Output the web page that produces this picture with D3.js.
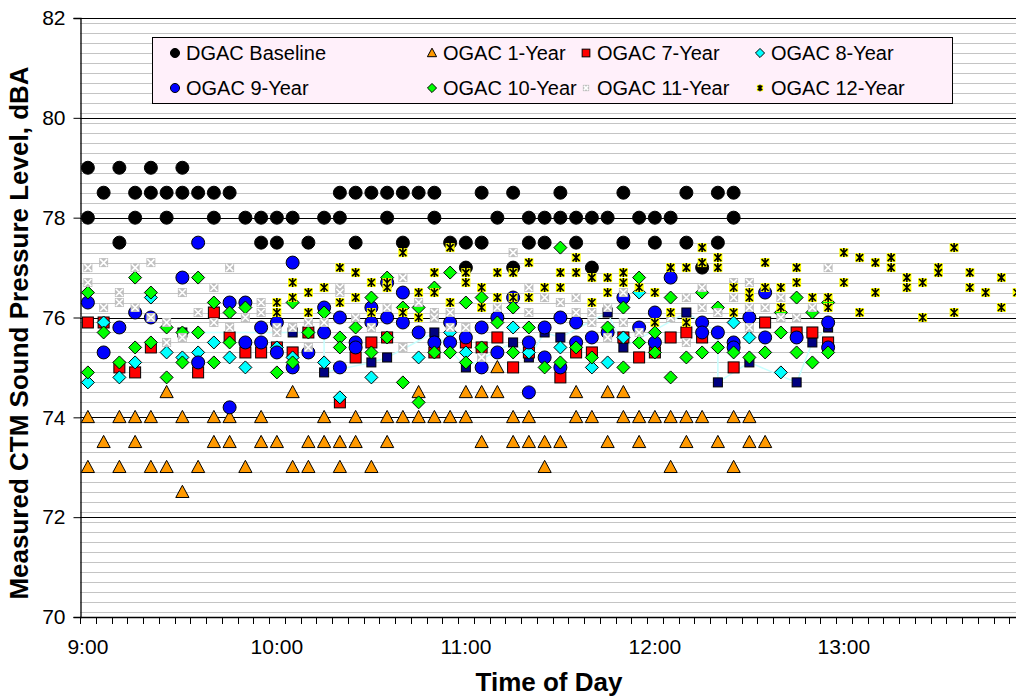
<!DOCTYPE html>
<html><head><meta charset="utf-8">
<script src="https://cdn.jsdelivr.net/npm/d3@7"></script>
<style>body{margin:0;background:#fff}svg{display:block;font-family:Arial,"Liberation Sans",sans-serif}</style>
</head><body><svg id="c" width="1016" height="700"></svg>
<script>
// 5-minute time slots (categories)
const times = ["9:00","9:05","9:10","9:15","9:20","9:25","9:30","9:35","9:40","9:45","9:50","9:55",
"10:00","10:05","10:10","10:15","10:20","10:25","10:30","10:35","10:40","10:45","10:50","10:55",
"11:00","11:05","11:10","11:15","11:20","11:25","11:30","11:35","11:40","11:45","11:50","11:55",
"12:00","12:05","12:10","12:15","12:20","12:25","12:30","12:35","12:40","12:45","12:50","12:55",
"13:00","13:05","13:10","13:15","13:20","13:25","13:30","13:35","13:40","13:45","13:50","13:55"];
const tickLabels = ["9:00","10:00","11:00","12:00","13:00"];
const yTicks = [70,72,74,76,78,80,82];

// values per time slot (index = slot in `times`)
const dgacBaseline = [[79,78],[78.5],[79,77.5],[78.5,78],[79,78.5],[78.5,78],[79,78.5],[78.5],[78.5,78],[78.5],[78],[78,77.5],
[78,77.5],[78],[77.5],[78],[78.5,78],[78.5,77.5],[78.5],[78.5,78],[78.5,77.5],[78.5],[78.5,78],[77.5],
[77.5,77],[78.5,77.5],[78],[78.5,77],[78,77.5],[78,77.5],[78.5,78],[78,77.5],[78,77],[78],[78.5,77.5],[78],
[78,77.5],[78],[78.5,77.5],[77],[78.5,77.5],[78.5,78]];
const ogac1 = [[74,73],[73.5],[74,73],[74,73.5],[74,73],[74.5,73],[74,72.5],[73],[74,73.5],[74,73.5],[73],[74,73.5],
[73.5],[74.5,73],[73.5,73],[74,73.5],[73.5,73],[74,73.5],[73],[74,73.5],[74],[74.5,74],[74],[74],
[74.5,74],[74.5,73.5],[75,74.5],[74,73.5],[74,73.5],[73.5,73],[73.5],[74.5,74],[74],[74.5,73.5],[74.5,74],[74,73.5],
[74],[74,73],[74,73.5],[74],[73.5],[74,73],[74,73.5],[73.5]];
const ogacExtra = [[],[],[],[],[],[],[75.7],[],[],[],[],[],
[],[75.7],[],[75.7,74.9],[],[],[75.1],[75.2],[],[],[75.7],[],
[75.0],[],[],[75.5],[75.2],[75.7],[75.6],[],[],[76.1],[75.4],[],
[],[],[76.1],[],[75.7,74.7],[],[75.1],[],[],[74.7],[75.5],[75.8]];
const ogac7 = [[75.9],[75.9],[75.0],[74.9],[75.4],[],[],[74.9],[76.1],[75.6],[75.3],[75.3],
[75.4],[75.3],[75.7],[],[74.3],[75.2],[75.5],[75.6],[],[],[75.3],[],
[75.5],[75.4],[75.6],[75.0],[75.3],[],[74.8],[75.3],[75.3],[],[75.6],[75.2],
[75.3],[75.6],[75.7],[75.6],[],[75.0],[],[75.9],[],[75.7],[75.7],[75.5]];
const ogac8 = [[74.7],[75.9],[74.8],[75.1],[76.4],[75.3],[75.2],[75.3],[75.5],[75.2],[75.0],[],
[75.4],[75.2],[],[75.1],[74.4],[],[74.8],[],[],[75.2],[],[75.7],
[75.3],[],[],[75.8],[75.3],[],[75.4],[],[75.0],[75.1],[75.6],[76.5],
[],[],[],[],[],[75.9],[75.6],[],[74.9]];
const ogac9 = [[76.3],[75.3],[75.8],[76.1],[76.0],[],[76.8],[77.5,75.1],[],[76.3,74.2],[76.3,75.5],[75.8,75.5],
[75.9,75.3],[77.1,75.0],[75.3],[76.2,75.7],[76.0,75.0],[75.5,75.4],[76.2,75.9],[76.7,76.0],[76.5,75.9],[75.7],[75.5],[75.9,75.5],
[75.6],[75.8,75.0],[76.0,75.3],[76.4],[75.5,74.5],[75.8,75.2],[76.0,75.0],[75.9,75.5],[75.6],[75.7],[76.4],[75.8],
[76.1,75.5],[76.8],[],[75.9,75.7],[75.7],[75.5,75.4],[76.0],[76.5,75.6],[],[75.6],[],[75.9,75.4]];
const ogac10 = [[76.5,74.9],[75.7],[75.1],[76.8,75.4],[76.5,75.5],[75.8,74.8],[75.7,75.1],[76.8,75.7],[76.3,75.1],[76.1,75.5],[76.2],[],
[74.9],[76.3,75.1],[75.7],[76.1],[75.6,75.4],[75.8],[76.4,75.3],[76.8,75.6],[76.2,74.7],[76.2,74.3],[76.6,75.3],[76.9,75.3],
[76.3,75.1],[76.4,75.4],[75.9],[76.2,75.3],[75.8],[75.0],[77.4,75.1],[75.4],[75.2],[75.8],[76.2,75.0],[76.8,75.5],
[75.7,75.3],[76.4,74.8],[75.2],[76.5,75.3],[76.2,75.4],[75.3],[75.2],[75.3],[76.1,75.7],[76.4,75.3],[76.1,75.1],[76.3,75.3]];
const ogac11 = [[77.0,76.7],[77.1,76.2],[76.5,76.3],[77.0,76.2],[77.1,76.0],[75.9,75.5],[76.5,75.6],[76.1],[76.6,75.9],[77.0,75.8],[76.0],[76.3,76.1],
[75.8,75.7],[75.8],[75.9,75.4],[75.9],[76.6,76.5],[76.0],[75.8],[76.2],[76.8,75.4],[76.3],[76.1,76.0],[76.1,75.8],
[75.8],[75.2],[76.2],[77.3],[76.6,76.1],[76.4],[76.3],[76.4,76.1],[76.1,75.9],[76.2,75.6],[76.5,75.9],[75.7],
[],[76.0],[76.4,75.5],[76.6,76.2],[76.1],[76.7,76.4],[76.7,76.2,75.8],[76.2],[76.4,76.0],[76.0],[76.2],[77.0]];
const ogac12 = [[],[],[],[],[],[],[],[],[],[],[],[],
[76.3,76.1],[76.7,76.4],[76.5,76.1],[76.6],[77.0,76.3],[76.9,76.4],[76.7,76.1],[76.7,76.6],[77.3,76.1],[76.5,76.0],[76.9,76.5],[77.4,76.3],
[76.9,76.7],[76.6,76.2],[76.9,76.4],[76.9,76.4],[77.1,76.4],[76.6],[76.9,76.6],[77.2,76.9],[76.8,76.3],[76.8,76.5],[76.9,76.7],[76.6],
[76.5,75.9],[77.0,76.1],[77.0,75.9],[77.4,77.1],[77.2,77.0],[76.6,76.1],[76.5,76.4],[77.1,76.6],[76.6,76.2],[77.0,76.7],[76.4],[76.4,76.2],
[77.3,76.7],[77.2,76.1],[77.1,76.5],[77.2,77.0],[76.8,76.6],[76.7,76.0],[77.0,76.9],[77.4,76.1],[76.9,76.6],[76.5],[76.8,76.2],[76.5]];

const legendNames = ["DGAC Baseline","OGAC 1-Year","OGAC 7-Year","OGAC 8-Year","OGAC 9-Year","OGAC 10-Year","OGAC 11-Year","OGAC 12-Year"];

const svg = d3.select("#c");
const L = 80, T = 18, B = 617, BW = 15.75;
const x = d3.scaleBand().domain(times).range([L, L + times.length * BW]).paddingInner(0).paddingOuter(0);
const y = d3.scaleLinear().domain([70, 82]).range([B, T]);
const cx = t => x(t) + x.bandwidth() / 2;

// gridlines
const minor = d3.range(701, 820, 2).map(v => v / 10).filter(v => Math.abs(v % 2) > 0.01);
svg.append("g").selectAll("line").data(minor).join("line")
  .attr("x1", L).attr("x2", 1016).attr("y1", d => Math.round(y(d)) + 0.5).attr("y2", d => Math.round(y(d)) + 0.5)
  .attr("stroke", "#c4c4c4").attr("stroke-width", 1);
svg.append("g").selectAll("line").data(yTicks.filter(v => v > 70)).join("line")
  .attr("x1", L).attr("x2", 1016).attr("y1", d => Math.round(y(d)) + 0.5).attr("y2", d => Math.round(y(d)) + 0.5)
  .attr("stroke", "#000").attr("stroke-width", 1);

// y axis
const ya = svg.append("g").attr("transform", `translate(${L + 0.5},0)`)
  .call(d3.axisLeft(y).tickValues(yTicks).tickSize(7).tickPadding(8).tickFormat(d3.format("d")));
ya.select(".domain").attr("stroke", "#000").attr("stroke-width", 1.3);
ya.selectAll(".tick line").attr("stroke", "#000");
ya.selectAll(".tick text").attr("font-size", 21).attr("font-family", "Arial, 'Liberation Sans', sans-serif").attr("fill", "#000");

// x axis
svg.append("line").attr("x1", L).attr("x2", 1016).attr("y1", B + 0.5).attr("y2", B + 0.5).attr("stroke", "#000").attr("stroke-width", 1.3);
svg.append("g").selectAll("line").data(times).join("line")
  .attr("x1", d => Math.round(x(d)) + 0.5).attr("x2", d => Math.round(x(d)) + 0.5)
  .attr("y1", B).attr("y2", B + 7).attr("stroke", "#000");
const xa = svg.append("g").attr("transform", `translate(0,${B})`)
  .call(d3.axisBottom(x).tickValues(tickLabels).tickSize(0).tickPadding(22));
xa.select(".domain").remove();
xa.selectAll(".tick text").attr("font-size", 21).attr("font-family", "Arial, 'Liberation Sans', sans-serif").attr("fill", "#000");

// titles
svg.append("text").attr("x", 549).attr("y", 691).attr("text-anchor", "middle")
  .attr("font-size", 26).attr("font-weight", "bold").text("Time of Day");
svg.append("text").attr("transform", "translate(28,333) rotate(-90)").attr("text-anchor", "middle")
  .attr("font-size", 26).attr("font-weight", "bold").text("Measured CTM Sound Pressure Level, dBA");

// marker painters
function marker(g, type, s) {
  s = s || 1;
  if (type === "circle") g.append("circle").attr("r", 6.5 * s).attr("fill", g.datum().fill).attr("stroke", "#000").attr("stroke-width", 1);
  else if (type === "triangle") {
    const a = 6.6 * s;
    g.append("path").attr("d", `M0,${-a * 1.05}L${a},${a * 0.8}L${-a},${a * 0.8}Z`).attr("fill", "#ff9900").attr("stroke", "#000").attr("stroke-width", 1);
  } else if (type === "square") {
    const a = 5.5 * s;
    g.append("rect").attr("x", -a).attr("y", -a).attr("width", 2 * a).attr("height", 2 * a).attr("fill", g.datum().fill).attr("stroke", "#000").attr("stroke-width", 1);
  } else if (type === "navy") {
    const a = 4.5 * s;
    g.append("rect").attr("x", -a).attr("y", -a).attr("width", 2 * a).attr("height", 2 * a).attr("fill", "#000080").attr("stroke", "#000").attr("stroke-width", 1);
  } else if (type === "diamond") {
    const a = 6.5 * s;
    g.append("path").attr("d", `M0,${-a}L${a},0L0,${a}L${-a},0Z`).attr("fill", g.datum().fill).attr("stroke", "#000").attr("stroke-width", 1);
  } else if (type === "grayx") {
    const a = 4.5 * s;
    g.append("rect").attr("x", -a).attr("y", -a).attr("width", 2 * a).attr("height", 2 * a).attr("fill", "#c0c0c0");
    g.append("path").attr("d", `M${-a + 1},${-a + 1}L${a - 1},${a - 1}M${a - 1},${-a + 1}L${-a + 1},${a - 1}`).attr("stroke", "#fff").attr("stroke-width", 1.6);
  } else if (type === "star") {
    const a = 4.5 * s;
    g.append("rect").attr("x", -a).attr("y", -a).attr("width", 2 * a).attr("height", 2 * a).attr("fill", "#ffff00");
    g.append("path").attr("d", `M${-a + 1},${-a + 1}L${a - 1},${a - 1}M${a - 1},${-a + 1}L${-a + 1},${a - 1}M0,${-a}L0,${a}`).attr("stroke", "#000").attr("stroke-width", 1.6);
  }
}

const series = [
  {data: dgacBaseline, type: "circle", fill: "#000000"},
  {data: ogac1, type: "triangle", fill: "#ff9900"},
  {data: ogacExtra, type: "navy", fill: "#000080", line: true},
  {data: ogac7, type: "square", fill: "#ff0000"},
  {data: ogac8, type: "diamond", fill: "#00ffff"},
  {data: ogac9, type: "circle", fill: "#0000ff"},
  {data: ogac10, type: "diamond", fill: "#00ff00"},
  {data: ogac11, type: "grayx", fill: "#c0c0c0"},
  {data: ogac12, type: "star", fill: "#ffff00"}
];

svg.append("defs").append("clipPath").attr("id", "pc").append("rect").attr("x", L).attr("y", 0).attr("width", 1016 - L).attr("height", B + 8);
const plot = svg.append("g").attr("clip-path", "url(#pc)");

series.forEach(s => {
  const pts = [];
  s.data.forEach((vals, i) => vals.forEach(v => pts.push({t: times[i], v, fill: s.fill})));
  if (s.line) {
    plot.append("path").datum(pts)
      .attr("d", d3.line().x(d => cx(d.t)).y(d => y(d.v)))
      .attr("fill", "none").attr("stroke", "#c8ffff").attr("stroke-width", 1.5);
  }
  plot.append("g").selectAll("g").data(pts).join("g")
    .attr("transform", d => `translate(${cx(d.t)},${y(d.v)})`)
    .each(function () { marker(d3.select(this), s.type); });
});

// legend
const lg = svg.append("g");
lg.append("rect").attr("x", 152.5).attr("y", 37.5).attr("width", 800).attr("height", 66)
  .attr("fill", "#fff0fa").attr("stroke", "#000").attr("stroke-width", 1);
const legendSeries = [0, 1, 3, 4, 5, 6, 7, 8];
const colX = [175, 432, 586, 760];
const rowY = [53, 88];
legendNames.forEach((name, k) => {
  const s = series[legendSeries[k]];
  const mx = colX[k % 4], my = rowY[Math.floor(k / 4)];
  const g = lg.append("g").datum({fill: s.fill}).attr("transform", `translate(${mx},${my})`);
  marker(g, s.type, 0.7);
  lg.append("text").attr("x", mx + 11).attr("y", my + 7).attr("font-size", 20).text(name);
});
</script>
</body></html>
